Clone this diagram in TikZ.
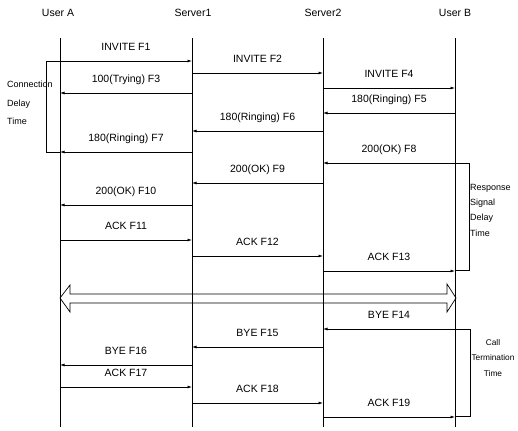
\documentclass[tikz,border=0pt]{standalone}
\usepackage{fontspec}
\setmainfont{Liberation Sans}
\usetikzlibrary{arrows.meta}

\begin{document}
\begin{tikzpicture}[x=1pt, y=-1pt, >={Latex[length=4.5pt,width=3pt]},
  line/.style={line width=0.7pt},
  msg/.style={->, line width=0.7pt},
  lbl/.style={font=\fontsize{10.5}{12}\selectfont, inner sep=1pt, text height=7.5pt, text depth=2pt},
  side/.style={font=\fontsize{9}{15.3}\selectfont, inner sep=0pt}]

\useasboundingbox (0,0) rectangle (518,430);

% Participants
\node[lbl] (hA) at (58,14) {User A};
\node[lbl] (hS1) at (193,14) {Server1};
\node[lbl] (hS2) at (323,14) {Server2};
\node[lbl] (hB) at (455,14) {User B};

% Lifelines
\coordinate (ua) at (60,38);
\coordinate (s1) at (192,38);
\coordinate (s2) at (323,38);
\coordinate (ub) at (455,38);
\foreach \p in {ua,s1,s2,ub}
  \draw[line] (\p) -- (\p |- 0,427);

% Messages
\foreach \src/\dst/\y/\txt in {
    ua/s1/61/INVITE F1, s1/s2/73/INVITE F2, s1/ua/93/100(Trying) F3,
    s2/ub/88/INVITE F4, ub/s2/113/180(Ringing) F5, s2/s1/131/180(Ringing) F6,
    s1/ua/152/180(Ringing) F7, ub/s2/163/200(OK) F8, s2/s1/183/200(OK) F9,
    s1/ua/205/200(OK) F10, ua/s1/240/ACK F11, s1/s2/256/ACK F12,
    s2/ub/271/ACK F13, ub/s2/329/BYE F14, s2/s1/347/BYE F15,
    s1/ua/365/BYE F16, ua/s1/387/ACK F17, s1/s2/403/ACK F18,
    s2/ub/417/ACK F19}
  \draw[msg] (\src |- 0,\y) -- (\dst |- 0,\y) node[lbl, midway, above=7pt] {\txt};

% Double block arrow
\draw[line] (60,298) -- (70,285) -- (70,294) -- (447,294) -- (447,284) -- (456,298)
  -- (447,312) -- (447,303) -- (70,303) -- (70,312) -- cycle;

% Delay brackets
\draw[line] (ua |- 0,61) -| (46,152) -- (ua |- 0,152);
\draw[line] (ub |- 0,163) -| (469,270) -- (ub |- 0,270);
\draw[line] (ub |- 0,329) -| (470,416) -- (ub |- 0,416);

\node[side, align=left, anchor=west, font=\fontsize{9}{18.5}\selectfont] (cdt) at (7,103) {Connection\\Delay\\Time};
\node[side, align=left, anchor=west] (rsdt) at (470,210) {Response\\Signal\\Delay\\Time};
\node[side, align=center, font=\fontsize{8.3}{15.5}\selectfont] (ctt) at (493,358) {Call\\Termination\\Time};

\end{tikzpicture}
\end{document}
